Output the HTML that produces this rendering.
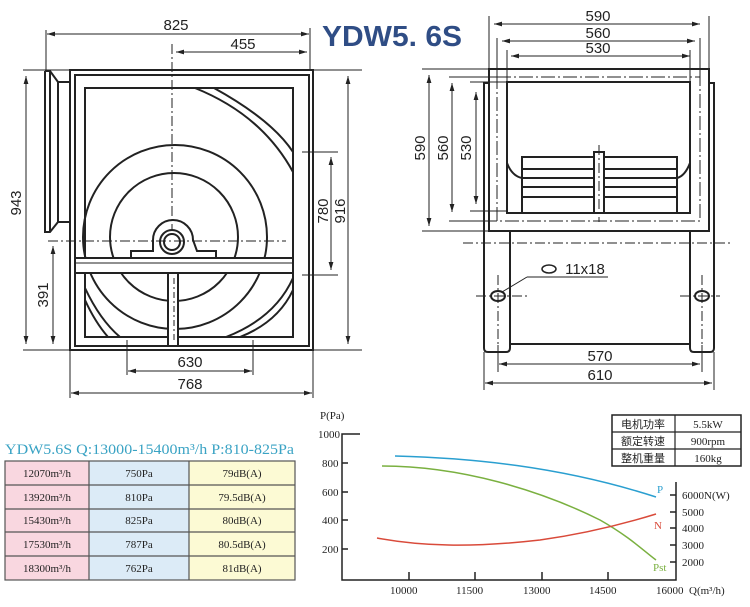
<!DOCTYPE html>
<html><head><meta charset="utf-8"><style>
html,body{margin:0;padding:0;background:#fff;width:750px;height:607px;overflow:hidden}
svg{display:block}
.d{font-family:"Liberation Sans",sans-serif;font-size:15px;fill:#222}
.s{font-family:"Liberation Serif",serif;font-size:11px;fill:#222}
.c{font-family:"Liberation Serif","Noto Sans CJK SC",serif;font-size:11px;fill:#222}
</style></head><body>
<svg width="750" height="607" viewBox="0 0 750 607" xmlns="http://www.w3.org/2000/svg">
<defs>
<marker id="a" viewBox="0 0 10 6" refX="10" refY="3" markerWidth="8" markerHeight="5" orient="auto-start-reverse"><path d="M0,0L10,3L0,6z" fill="#222"/></marker>
</defs>
<g stroke="#222" fill="none">
<!-- LEFT DRAWING -->
<g stroke-width="2">
<rect x="70" y="70" width="243" height="280"/>
<rect x="75" y="75" width="234" height="271"/>
<rect x="85" y="88" width="208" height="249"/>
<path d="M45,71 L50,71 L58,82 L70,82 M45,71 L45,232 L50,232 L58,222 L70,222 M50,71 L50,232 M58,82 L58,222"/>
<circle cx="175" cy="237" r="92"/>
<circle cx="174" cy="237" r="64"/>
<path d="M195,88 Q262,115 293,172"/>
<path d="M214,88 Q272,120 293,152"/>
<path d="M85,288 Q100,320 120,337"/>
<path d="M85,300 Q95,322 108,337"/>
<path d="M293,278 Q275,318 226,337"/>
<path d="M293,290 Q278,322 240,337"/>
<path d="M131,258 L131,251 L153,251 L153,240 A20,20 0 0 1 193,240 L197,251 L216,251 L216,258 Z" fill="#fff"/>
<circle cx="172" cy="242" r="12"/><circle cx="172" cy="242" r="8"/>
<rect x="75" y="258" width="218" height="15" fill="#fff"/>
<line x1="75" y1="263" x2="293" y2="263" stroke-width="1"/>
<rect x="168" y="273" width="10" height="73" fill="#fff"/>
</g>
<g stroke-width="1">
<path d="M172,44 L172,230 M48,241 L286,241" stroke-dasharray="10,3,2,3"/>
<path d="M174,278 L174,343" stroke-dasharray="6,3,2,3"/>
<path d="M23,70 L70,70 M23,350 L70,350 M313,70 L362,70 M313,350 L362,350 M46,30 L46,70 M310,28 L310,70 M302,152 L338,152 M302,275 L338,275 M127,340 L127,375 M253,340 L253,375 M70,350 L70,398 M313,350 L313,398"/>
<line x1="47" y1="34" x2="309" y2="34" marker-start="url(#a)" marker-end="url(#a)"/>
<line x1="176" y1="52" x2="307" y2="52" marker-start="url(#a)" marker-end="url(#a)"/>
<line x1="26" y1="76" x2="26" y2="344" marker-start="url(#a)" marker-end="url(#a)"/>
<line x1="53" y1="246" x2="53" y2="344" marker-start="url(#a)" marker-end="url(#a)"/>
<line x1="331" y1="157" x2="331" y2="270" marker-start="url(#a)" marker-end="url(#a)"/>
<line x1="348" y1="76" x2="348" y2="344" marker-start="url(#a)" marker-end="url(#a)"/>
<line x1="128" y1="371" x2="252" y2="371" marker-start="url(#a)" marker-end="url(#a)"/>
<line x1="71" y1="393" x2="312" y2="393" marker-start="url(#a)" marker-end="url(#a)"/>
</g>
<!-- RIGHT DRAWING -->
<g stroke-width="2">
<rect x="489" y="69" width="220" height="162"/>
<rect x="507" y="82" width="183" height="131"/>
<path d="M489,83 L484,83 L484,348 Q484,352 488,352 L506,352 Q510,352 510,348 L510,231"/>
<path d="M709,83 L714,83 L714,348 Q714,352 710,352 L694,352 Q690,352 690,348 L690,231"/>
<line x1="510" y1="344" x2="690" y2="344"/>
<rect x="522" y="157" width="155" height="56"/>
<path d="M522,169 H677 M522,178 H677 M522,187 H677 M522,197 H677"/>
<path d="M507,163 Q512,176 522,178 M690,163 Q685,176 677,178"/>
<rect x="594" y="152" width="10" height="61" fill="#fff"/>
<ellipse cx="498" cy="296" rx="7" ry="5"/><ellipse cx="702" cy="296" rx="7" ry="5"/>
<ellipse cx="549" cy="269" rx="7" ry="4" stroke-width="1.5"/>
</g>
<g stroke-width="1">
<rect x="497" y="77" width="203" height="144" stroke-dasharray="14,3,2,3"/>
<path d="M463,243 L732,243 M599,145 L599,222 M476,296 L530,296 M680,296 L720,296 M498,275 L498,345 M702,275 L702,345" stroke-dasharray="10,3,2,3"/>
<path d="M489,69 L489,16 M709,69 L709,16 M497,77 L497,38 M700,77 L700,38 M507,82 L507,50 M690,82 L690,50 M422,69 L489,69 M422,231 L489,231 M449,77 L497,77 M449,221 L497,221 M470,82 L507,82 M470,211 L507,211 M484,352 L484,390 M714,352 L714,390 M498,345 L498,372 M702,345 L702,372 M527,277 L608,277 M527,277 L502,292"/>
<line x1="494" y1="24" x2="700" y2="24" marker-start="url(#a)" marker-end="url(#a)"/>
<line x1="502" y1="41" x2="695" y2="41" marker-start="url(#a)" marker-end="url(#a)"/>
<line x1="511" y1="56" x2="690" y2="56" marker-start="url(#a)" marker-end="url(#a)"/>
<line x1="429" y1="75" x2="429" y2="226" marker-start="url(#a)" marker-end="url(#a)"/>
<line x1="452" y1="83" x2="452" y2="212" marker-start="url(#a)" marker-end="url(#a)"/>
<line x1="476" y1="92" x2="476" y2="204" marker-start="url(#a)" marker-end="url(#a)"/>
<line x1="499" y1="364" x2="700" y2="364" marker-start="url(#a)" marker-end="url(#a)"/>
<line x1="485" y1="383" x2="712" y2="383" marker-start="url(#a)" marker-end="url(#a)"/>
</g>
</g>
<g class="d" text-anchor="middle">
<text x="176" y="30">825</text><text x="243" y="49">455</text>
<text x="190" y="367">630</text><text x="190" y="389">768</text>
<text transform="translate(21,203) rotate(-90)">943</text>
<text transform="translate(48,295) rotate(-90)">391</text>
<text transform="translate(328,211) rotate(-90)">780</text>
<text transform="translate(345,211) rotate(-90)">916</text>
<text x="598" y="21">590</text><text x="598" y="38">560</text><text x="598" y="53">530</text>
<text transform="translate(425,148) rotate(-90)">590</text>
<text transform="translate(448,148) rotate(-90)">560</text>
<text transform="translate(471,148) rotate(-90)">530</text>
<text x="600" y="361">570</text><text x="600" y="380">610</text>
<text x="585" y="274">11x18</text>
</g>
<text x="322" y="46" font-family="'Liberation Sans',sans-serif" font-weight="bold" font-size="29" fill="#2f4d85" textLength="140" lengthAdjust="spacingAndGlyphs">YDW5. 6S</text>
<!-- TABLE -->
<text x="5" y="454" font-family="'Liberation Serif',serif" font-size="15" fill="#3aa3c4" textLength="289" lengthAdjust="spacingAndGlyphs">YDW5.6S  Q:13000-15400m³/h    P:810-825Pa</text>
<rect x="5" y="461" width="84" height="119" fill="#f9d7e0"/>
<rect x="89" y="461" width="100" height="119" fill="#dcebf7"/>
<rect x="189" y="461" width="106" height="119" fill="#fcfad4"/>
<g stroke="#555" stroke-width="1.2" fill="none">
<rect x="5" y="461" width="290" height="119"/>
<path d="M5,485 H295 M5,509 H295 M5,532 H295 M5,556 H295 M89,461 V580 M189,461 V580"/>
</g>
<g class="s" text-anchor="middle" fill="#444">
<text x="47" y="477">12070m³/h</text><text x="139" y="477">750Pa</text><text x="242" y="477">79dB(A)</text>
<text x="47" y="501">13920m³/h</text><text x="139" y="501">810Pa</text><text x="242" y="501">79.5dB(A)</text>
<text x="47" y="524">15430m³/h</text><text x="139" y="524">825Pa</text><text x="242" y="524">80dB(A)</text>
<text x="47" y="548">17530m³/h</text><text x="139" y="548">787Pa</text><text x="242" y="548">80.5dB(A)</text>
<text x="47" y="572">18300m³/h</text><text x="139" y="572">762Pa</text><text x="242" y="572">81dB(A)</text>
</g>
<!-- CHART -->
<g stroke="#222" stroke-width="1.5" fill="none">
<path d="M360,434 L342,434 L342,580 L676,580 L676,482"/>
<path d="M342,463 H348 M342,492 H348 M342,520 H348 M342,549 H348 M409,580 V572 M475,580 V572 M542,580 V572 M608,580 V572 M676,495 H670 M676,512 H670 M676,528 H670 M676,545 H670 M676,562 H670"/>
</g>
<path d="M395,456 C470,458 560,466 656,497" stroke="#2a9fd0" stroke-width="1.5" fill="none"/>
<path d="M382,466 C460,466 540,490 600,520 C630,537 645,552 656,560" stroke="#7ab040" stroke-width="1.5" fill="none"/>
<path d="M377,538 C420,546 470,548 540,540 C590,533 630,522 656,514" stroke="#d94a3a" stroke-width="1.5" fill="none"/>
<g class="s">
<text x="320" y="419">P(Pa)</text>
<text x="318" y="438">1000</text><text x="322" y="467">800</text><text x="322" y="496">600</text><text x="322" y="524">400</text><text x="322" y="553">200</text>
<text x="390" y="594">10000</text><text x="456" y="594">11500</text><text x="523" y="594">13000</text><text x="589" y="594">14500</text><text x="656" y="594">16000</text>
<text x="689" y="594">Q(m³/h)</text>
<text x="682" y="499">6000N(W)</text><text x="682" y="516">5000</text><text x="682" y="532">4000</text><text x="682" y="549">3000</text><text x="682" y="566">2000</text>
<text x="657" y="493" fill="#2a9fd0">P</text><text x="654" y="529" fill="#d94a3a">N</text><text x="653" y="571" fill="#7ab040">Pst</text>
</g>
<rect x="612" y="415" width="129" height="51" fill="none" stroke="#222" stroke-width="1.5"/>
<path d="M612,432 H741 M612,449 H741 M675,415 V466" stroke="#222" stroke-width="1.2"/>
<g class="c" text-anchor="middle">
<text x="643" y="428">电机功率</text><text x="708" y="428">5.5kW</text>
<text x="643" y="445">额定转速</text><text x="708" y="445">900rpm</text>
<text x="643" y="462">整机重量</text><text x="708" y="462">160kg</text>
</g>
</svg>
</body></html>
